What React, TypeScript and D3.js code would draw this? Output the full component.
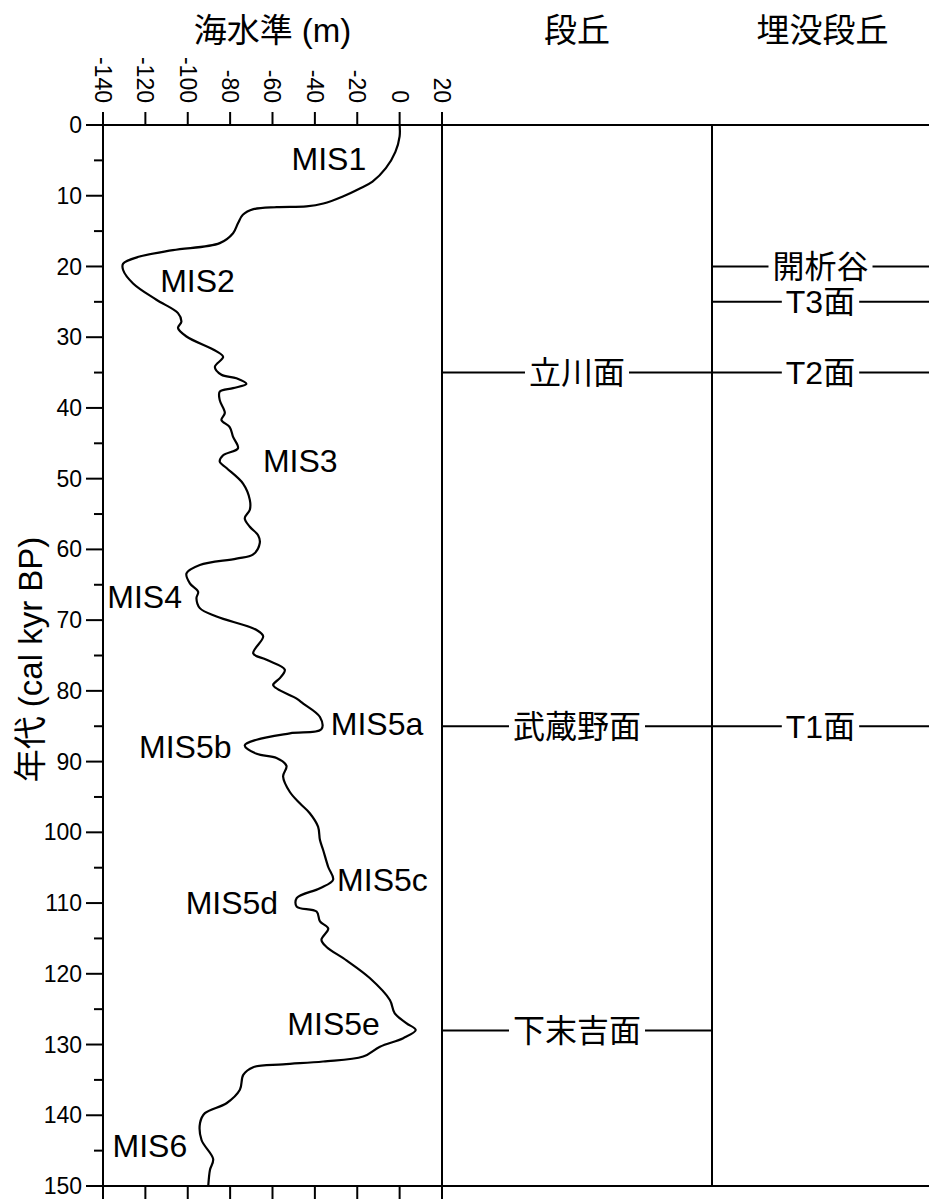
import { useEffect, useRef } from 'react';
import * as d3 from 'd3';

const W = 929;
const H = 1201;

// sea-level curve: age (cal kyr BP) and sea level (m)
const curveAge = [
  0, 1.6, 3.8, 6.1, 8.0, 9.0, 10.1, 11.1, 11.5, 11.6, 11.9, 12.7, 13.9, 15.3, 16.7, 17.7, 18.6, 19.6,
  20.5, 22.4, 24.7, 26.6, 27.8, 28.7, 29.9, 32.0, 32.8, 34.2, 35.3, 35.8, 36.6, 37.2, 37.7, 38.9,
  40.7, 41.7, 42.7, 44.1, 45.7, 46.7, 47.6, 48.5, 50.7, 53.0, 54.4, 55.6, 56.8, 58.0, 59.1, 60.7,
  61.3, 62.2, 63.4, 64.8, 66.0, 66.9, 68.3, 69.5, 71.4, 72.3, 74.7, 75.6, 77.0, 78.2, 79.2, 81.1,
  81.8, 83.7, 85.4, 86.0, 86.9, 87.7, 88.9, 89.5, 90.6, 92.1, 94.3, 95.9, 97.3, 99.2, 101.1, 102.5,
  104.9, 106.7, 107.9, 109.3, 110.5, 111.2, 112.6, 113.6, 115.2, 116.2, 118.1, 120.6, 123.7, 125.6,
  127.0, 127.95, 129.1, 130.3, 131.7, 132.4, 132.8, 133.2, 134.3, 136.4, 138.3, 139.7, 141.1, 143.5,
  146.2, 147.7, 149.9,
];
const curveLevel = [
  0, 0, -2, -6.5, -12.8, -19, -26.8, -36, -44, -58, -69, -74, -76.3, -78.6, -84.9, -107, -122.7, -130.5,
  -130.5, -125.8, -114.8, -104.6, -103, -104.6, -100.6, -86.4, -83.3, -87.2, -84.1, -77, -72.3, -78.6, -84.9, -84.9,
  -82.5, -84.1, -80.2, -78.6, -76.3, -83.3, -84.9, -81.7, -73.9, -70.7, -70.7, -73.1, -70.7, -66.8, -66, -69.1,
  -77, -94.3, -100.6, -99, -95.1, -95.9, -94.3, -86.4, -67.5, -64.4, -69.1, -62.8, -54.2, -56.5, -59.7, -48.6,
  -45.5, -37.6, -36.9, -51.8, -67.5, -73.1, -67.5, -58.1, -53.4, -55, -51.8, -47.1, -42.4, -38.5, -37.6, -36.1,
  -33.7, -31.4, -37.6, -48.6, -48.6, -39.2, -37.6, -33.7, -36.9, -34.5, -25.1, -14.1, -4.6, -2.3,
  3.3, 7.6, 1.7, -9.3, -17.2, -36.1, -55, -69.1, -73.8, -75.4, -81.7, -91.9, -94.2, -93.5,
  -88, -89.5, -90.3,
];

const seaTicks = [-140, -120, -100, -80, -60, -40, -20, 0, 20];
const ageMajor = [0, 10, 20, 30, 40, 50, 60, 70, 80, 90, 100, 110, 120, 130, 140, 150];
const ageMinor = [5, 15, 25, 35, 45, 55, 65, 75, 85, 95, 105, 115, 125, 135, 145];

const misNames = ['MIS1', 'MIS2', 'MIS3', 'MIS4', 'MIS5a', 'MIS5b', 'MIS5c', 'MIS5d', 'MIS5e', 'MIS6'];
const misLevel = [-51, -113, -64.5, -138, -32.5, -123, -29.5, -101, -53, -135.5];
const misAge = [6.4, 23.6, 49.1, 68.3, 86.2, 89.5, 108.3, 111.6, 128.7, 145.9];

const terraceNames = ['立川面', '武蔵野面', '下末吉面'];
const terraceAges = [35, 85, 128];
const buriedNames = ['開析谷', 'T3面', 'T2面', 'T1面'];
const buriedAges = [20, 25, 35, 85];

const FONT = '"Liberation Sans", Arial, "Noto Sans CJK JP", sans-serif';

export default function App() {
  const ref = useRef<SVGSVGElement>(null);

  useEffect(() => {
    document.body.style.margin = '0';
    if (!ref.current) return;
    const svg = d3.select(ref.current);
    svg.selectAll('*').remove();

    const x = d3.scaleLinear().domain([-140, 20]).range([103, 442]);
    const y = d3.scaleLinear().domain([0, 150]).range([125, 1186]);

    const p1 = [x(20), 712];
    const p2 = [712, W];
    const top = y(0);
    const bottom = y(150);
    const tickLen = 13;

    const g = svg.append('g').attr('font-family', FONT).attr('fill', '#000');

    // frame
    const frame = g.append('g').attr('stroke', '#000').attr('stroke-width', 2).attr('fill', 'none');
    frame.append('line').attr('x1', x(-140)).attr('x2', W).attr('y1', top).attr('y2', top);
    frame.append('line').attr('x1', x(-140)).attr('x2', W).attr('y1', bottom).attr('y2', bottom);
    frame.append('line').attr('x1', x(-140)).attr('x2', x(-140)).attr('y1', top).attr('y2', bottom);
    frame.append('line').attr('x1', p1[0]).attr('x2', p1[0]).attr('y1', top).attr('y2', bottom);
    frame.append('line').attr('x1', p1[1]).attr('x2', p1[1]).attr('y1', top).attr('y2', bottom);

    // sea level ticks, top and bottom
    seaTicks.forEach((t) => {
      frame.append('line').attr('x1', x(t)).attr('x2', x(t)).attr('y1', top - tickLen).attr('y2', top);
      frame.append('line').attr('x1', x(t)).attr('x2', x(t)).attr('y1', bottom).attr('y2', bottom + tickLen);
    });
    g.selectAll('.xlab')
      .data(seaTicks)
      .join('text')
      .attr('class', 'xlab')
      .attr('transform', (d) => `translate(${x(d)},${top - 22}) rotate(90)`)
      .attr('text-anchor', 'end')
      .attr('dy', '0.35em')
      .style('font-size', '23px')
      .text((d) => String(d));

    // age ticks
    ageMajor.forEach((t) => {
      frame.append('line').attr('x1', x(-140) - 17).attr('x2', x(-140)).attr('y1', y(t)).attr('y2', y(t));
    });
    ageMinor.forEach((t) => {
      frame.append('line').attr('x1', x(-140) - 9).attr('x2', x(-140)).attr('y1', y(t)).attr('y2', y(t));
    });
    g.selectAll('.ylab')
      .data(ageMajor)
      .join('text')
      .attr('class', 'ylab')
      .attr('x', x(-140) - 21)
      .attr('y', (d) => y(d))
      .attr('dy', '0.35em')
      .attr('text-anchor', 'end')
      .style('font-size', '23px')
      .text((d) => String(d));

    // titles
    g.append('text')
      .attr('x', (x(-140) + x(20)) / 2)
      .attr('y', 42)
      .attr('text-anchor', 'middle')
      .style('font-size', '33px')
      .text('海水準 (m)');
    g.append('text')
      .attr('x', (p1[0] + p1[1]) / 2)
      .attr('y', 42)
      .attr('text-anchor', 'middle')
      .style('font-size', '33px')
      .text('段丘');
    g.append('text')
      .attr('x', (p2[0] + p2[1]) / 2 + 2)
      .attr('y', 42)
      .attr('text-anchor', 'middle')
      .style('font-size', '33px')
      .text('埋没段丘');
    g.append('text')
      .attr('transform', `translate(42,${(top + bottom) / 2 + 4}) rotate(-90)`)
      .attr('text-anchor', 'middle')
      .style('font-size', '33px')
      .text('年代 (cal kyr BP)');

    // sea-level curve
    const pts = curveAge.map((a, i) => [curveLevel[i], a] as [number, number]);
    const line = d3
      .line<[number, number]>()
      .x((d) => x(d[0]))
      .y((d) => y(d[1]))
      .curve(d3.curveCatmullRom.alpha(0.5));
    g.append('path')
      .datum(pts)
      .attr('fill', 'none')
      .attr('stroke', '#000')
      .attr('stroke-width', 2.2)
      .attr('stroke-linejoin', 'round')
      .attr('d', line);

    // MIS labels
    g.selectAll('.mis')
      .data(misNames)
      .join('text')
      .attr('class', 'mis')
      .attr('x', (_, i) => x(misLevel[i]))
      .attr('y', (_, i) => y(misAge[i]))
      .style('font-size', '32px')
      .text((d) => d);

    // labelled horizontal lines inside a panel
    const labelled = (names: string[], ages: number[], x0: number, x1: number) => {
      names.forEach((name, i) => {
        const cx = (x0 + x1) / 2;
        const yy = y(ages[i]);
        const t = g
          .append('text')
          .attr('x', cx)
          .attr('y', yy)
          .attr('dy', '0.36em')
          .attr('text-anchor', 'middle')
          .style('font-size', '32px')
          .text(name);
        const w = (t.node() as SVGTextElement).getComputedTextLength();
        const pad = 4;
        frame.append('line').attr('x1', x0).attr('x2', cx - w / 2 - pad).attr('y1', yy).attr('y2', yy);
        frame.append('line').attr('x1', cx + w / 2 + pad).attr('x2', x1).attr('y1', yy).attr('y2', yy);
      });
    };
    labelled(terraceNames, terraceAges, p1[0], p1[1]);
    labelled(buriedNames, buriedAges, p2[0], p2[1]);
  }, []);

  return <svg ref={ref} width={W} height={H} style={{ display: 'block', background: '#fff' }} />;
}
